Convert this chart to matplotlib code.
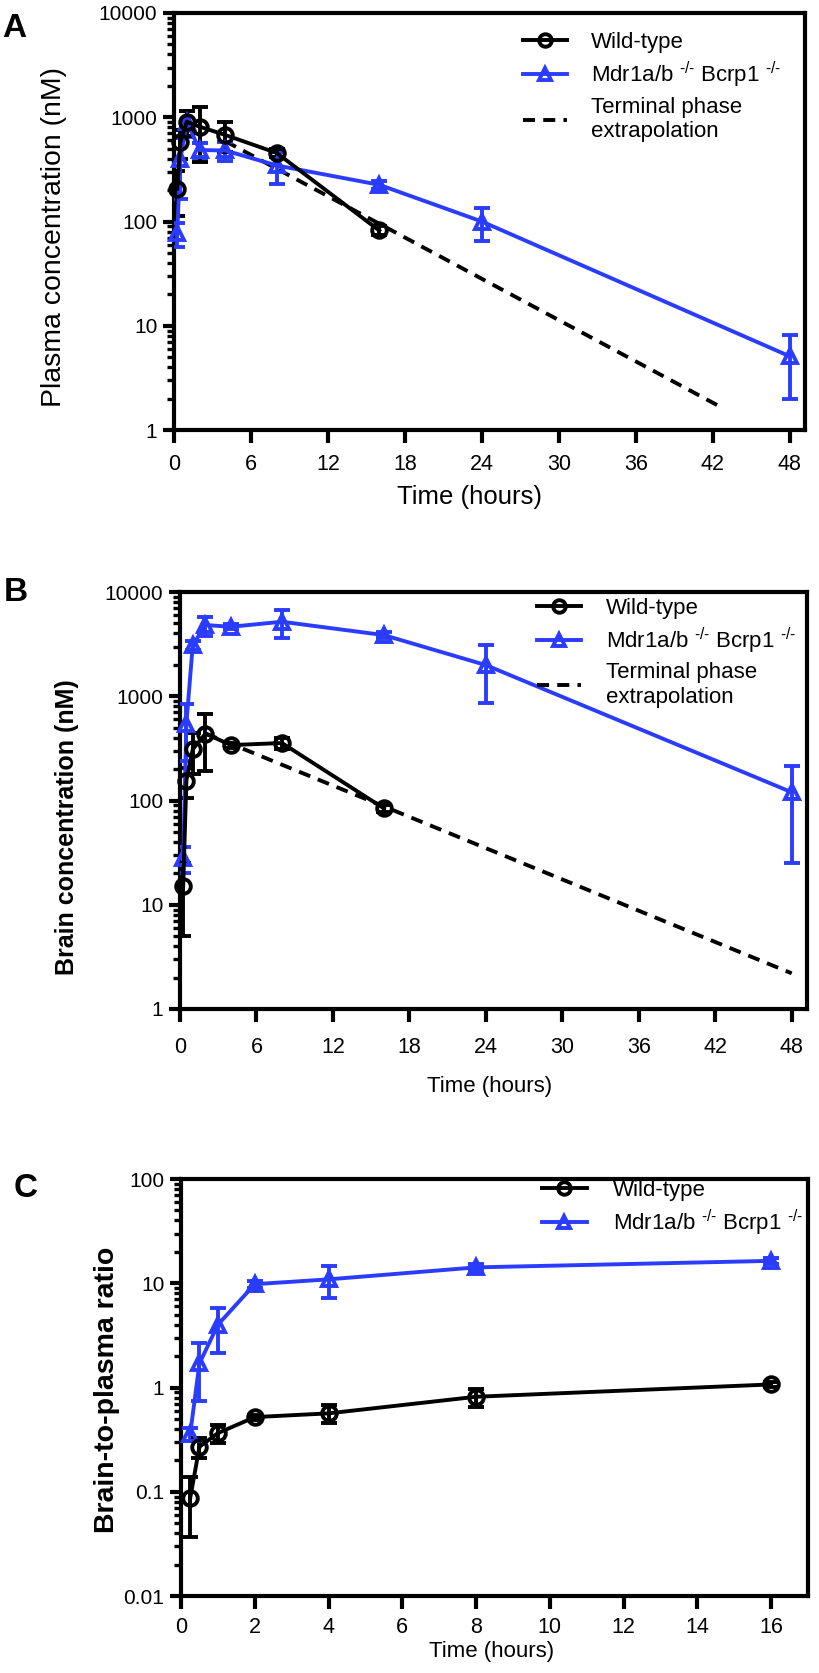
import matplotlib
matplotlib.use("Agg")
import matplotlib.pyplot as plt
from matplotlib.lines import Line2D
from matplotlib.ticker import LogLocator, NullFormatter, FuncFormatter, FixedLocator

plt.rcParams['font.family'] = ['Liberation Sans', 'DejaVu Sans']
plt.rcParams['mathtext.fontset'] = 'custom'
plt.rcParams['mathtext.rm'] = 'Liberation Sans'

# ---------------- data ----------------
# Panel A: plasma concentration (nM)
a_wt_t = [0.25, 0.5, 1, 2, 4, 8, 16]
a_wt_mean = [207, 580, 905, 812, 676, 455, 82]
a_wt_sd = [95, 180, 250, 440, 215, 40, 8]
a_ko_t = [0.25, 0.5, 1, 2, 4, 8, 16, 24, 48]
a_ko_mean = [77, 400, 900, 485, 480, 345, 225, 100, 5.1]
a_ko_sd = [20, 235, 250, 80, 100, 115, 20, 35, 3.1]
a_ext_t = [4, 42.8]
a_ext_c = [590, 1.62]

# Panel B: brain concentration (nM)
b_wt_t = [0.25, 0.5, 1, 2, 4, 8, 16]
b_wt_mean = [15, 155, 310, 438, 340, 356, 84]
b_wt_sd = [10, 50, 130, 245, 20, 45, 6]
b_ko_t = [0.25, 0.5, 1, 2, 4, 8, 16, 24, 48]
b_ko_mean = [28, 546, 3090, 4820, 4640, 5185, 3860, 1990, 120]
b_ko_sd = [8, 305, 300, 1000, 250, 1550, 250, 1120, 95]
b_ext_t = [2, 48]
b_ext_c = [440, 2.2]

# Panel C: brain-to-plasma ratio
c_wt_t = [0.25, 0.5, 1, 2, 4, 8, 16]
c_wt_mean = [0.087, 0.27, 0.365, 0.52, 0.565, 0.815, 1.07]
c_wt_sd = [0.05, 0.06, 0.07, 0.03, 0.11, 0.16, 0.05]
c_ko_t = [0.25, 0.5, 1, 2, 4, 8, 16]
c_ko_mean = [0.36, 1.7, 4.0, 9.8, 10.9, 14.2, 16.4]
c_ko_sd = [0.05, 0.95, 1.85, 0.8, 3.7, 1.0, 1.2]

ab_xticks = [0, 6, 12, 18, 24, 30, 36, 42, 48]
c_xticks = [0, 2, 4, 6, 8, 10, 12, 14, 16]

lbl_wt = 'Wild-type'
lbl_ko = r'Mdr1a/b $^{\text{-/-}}$ Bcrp1 $^{\text{-/-}}$'
lbl_ext = 'Terminal phase\nextrapolation'

BLUE = '#2a3cff'
BLACK = '#000000'
LW = 2.8
MS_C = 10.5
MS_T = 10
MEW = 2.8
DASH = (0, (3.1, 2.1))
SPW = 3.0

W, H = 819, 1673
fig = plt.figure(figsize=(W / 100, H / 100), dpi=100)


def px_axes(l, t, r, b):
    return fig.add_axes([l / W, 1 - b / H, (r - l) / W, (b - t) / H])


def style(ax, xticks, xmax, ylim, xpad):
    ax.set_yscale('log')
    ax.set_ylim(*ylim)
    ax.set_xlim(0, xmax)
    ax.xaxis.set_major_locator(FixedLocator(xticks))
    ax.yaxis.set_major_locator(LogLocator(base=10, numticks=20))
    ax.yaxis.set_minor_locator(LogLocator(base=10, subs=range(2, 10), numticks=20))
    ax.yaxis.set_minor_formatter(NullFormatter())
    ax.yaxis.set_major_formatter(FuncFormatter(lambda v, p: f'{v:g}'))
    for s in ax.spines.values():
        s.set_linewidth(SPW)
    ax.tick_params(axis='x', which='major', length=9, width=SPW, labelsize=15.5, pad=xpad, direction='out')
    ax.tick_params(axis='y', which='major', length=8, width=SPW, labelsize=15, pad=4, direction='out')
    ax.tick_params(axis='y', which='minor', length=5, width=2.4, direction='out')


def series(ax, t, m, sd, color, marker, ms):
    ax.errorbar(t, m, yerr=sd, fmt='none', ecolor=color, elinewidth=LW,
                capsize=6, capthick=LW, zorder=3)
    ax.plot(t, m, '-', color=color, lw=LW, marker=marker, ms=ms, mew=MEW,
            mfc='none', mec=color, zorder=4, clip_on=False)


def handles(with_ext):
    h = [Line2D([], [], color=BLACK, lw=LW, marker='o', ms=MS_C - 1.5, mew=MEW, mfc='none'),
         Line2D([], [], color=BLUE, lw=LW, marker='^', ms=MS_T - 1.5, mew=MEW, mfc='none')]
    l = [lbl_wt, lbl_ko]
    if with_ext:
        h.append(Line2D([], [], color=BLACK, lw=LW, linestyle=DASH))
        l.append(lbl_ext)
    return h, l


def legend(ax, with_ext, x, y, pad):
    h, l = handles(with_ext)
    ax.legend(h, l, loc='upper left', bbox_to_anchor=(x, y), frameon=False,
              fontsize=16, handlelength=2.0, handletextpad=pad, labelspacing=0.3,
              borderpad=0, borderaxespad=0)


def ylabel(ax, text, size, weight, x, y):
    ax.set_ylabel(text, fontsize=size, fontweight=weight)
    ax.yaxis.set_label_coords(x, y)
    ax.yaxis.label.set_va('center')


def xlabel(ax, size, x, y):
    ax.set_xlabel('Time (hours)', fontsize=size)
    ax.xaxis.set_label_coords(x, y)
    ax.xaxis.label.set_va('center')


# ---------------- Panel A ----------------
axA = px_axes(174, 13, 805, 430)
style(axA, ab_xticks, 49.2, (1, 10000), 8)
series(axA, a_ko_t, a_ko_mean, a_ko_sd, BLUE, '^', MS_T)
series(axA, a_wt_t, a_wt_mean, a_wt_sd, BLACK, 'o', MS_C)
axA.plot(a_ext_t, a_ext_c, color=BLACK, lw=LW, linestyle=DASH, zorder=2)
ylabel(axA, 'Plasma concentration (nM)', 20.4, 'normal', -0.19, 0.462)
xlabel(axA, 18.5, 0.468, -0.16)
legend(axA, True, 0.553, 0.954, 1.05)

# ---------------- Panel B ----------------
axB = px_axes(180, 592, 807, 1009)
style(axB, ab_xticks, 49.2, (1, 10000), 11)
series(axB, b_ko_t, b_ko_mean, b_ko_sd, BLUE, '^', MS_T)
series(axB, b_wt_t, b_wt_mean, b_wt_sd, BLACK, 'o', MS_C)
axB.plot(b_ext_t, b_ext_c, color=BLACK, lw=LW, linestyle=DASH, zorder=2)
ylabel(axB, 'Brain concentration (nM)', 18, 'bold', -0.180, 0.436)
xlabel(axB, 16, 0.494, -0.187)
legend(axB, True, 0.569, 0.986, 1.1)

# ---------------- Panel C ----------------
axC = px_axes(181, 1179, 808, 1596)
style(axC, c_xticks, 17.0, (0.01, 100), 6)
series(axC, c_ko_t, c_ko_mean, c_ko_sd, BLUE, '^', MS_T)
series(axC, c_wt_t, c_wt_mean, c_wt_sd, BLACK, 'o', MS_C)
ylabel(axC, 'Brain-to-plasma ratio', 20.5, 'bold', -0.118, 0.494)
xlabel(axC, 16, 0.496, -0.134)
legend(axC, False, 0.576, 0.998, 1.2)

# ---------------- panel letters ----------------
fig.text(2 / W, 1 - 37 / H, 'A', fontsize=24, fontweight='bold', va='baseline', ha='left')
fig.text(4 / W, 1 - 601 / H, 'B', fontsize=24, fontweight='bold', va='baseline', ha='left')
fig.text(14 / W, 1 - 1197 / H, 'C', fontsize=24, fontweight='bold', va='baseline', ha='left')

fig.savefig('out.png', dpi=100)
